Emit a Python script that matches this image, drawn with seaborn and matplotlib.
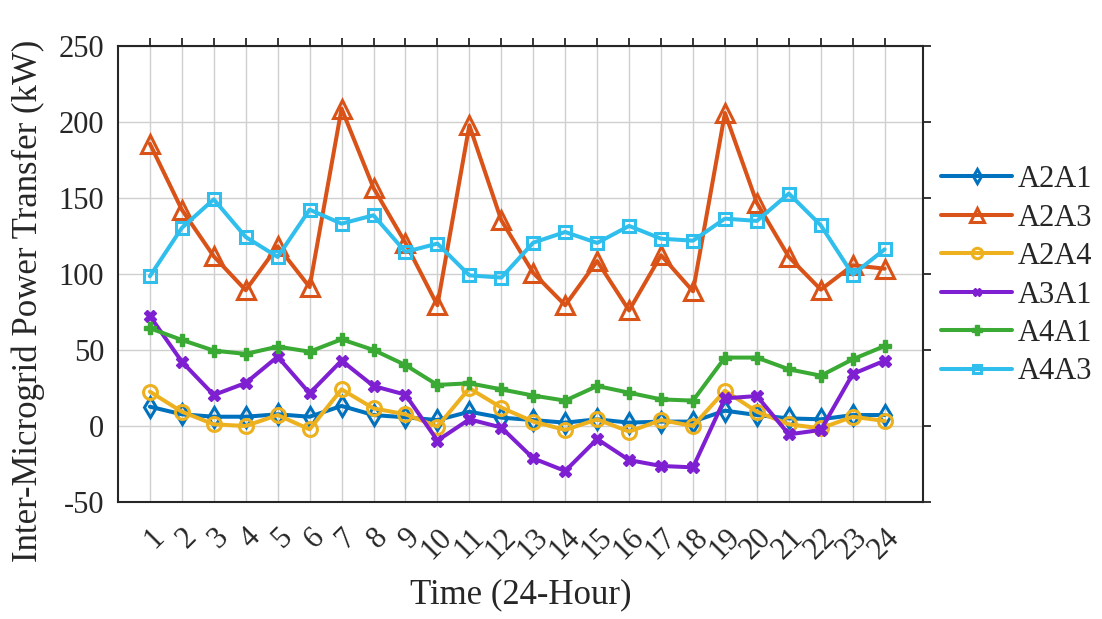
import numpy as np
import pandas as pd
import seaborn as sns
import matplotlib
matplotlib.use("Agg")
import matplotlib.pyplot as plt

hours = list(range(1, 25))

a2a1 = [12.7, 7.7, 6.1, 6.1, 7.7, 6.1, 13.2, 7.2, 5.7, 3.9, 9.4, 5.5,
        3.9, 2.2, 4.4, 2.2, 2.9, 2.9, 10.1, 7.2, 5.0, 4.4, 7.2, 7.2]
a2a3 = [185.7, 142.3, 111.6, 89.3, 118.2, 91.4, 208.8, 156.6, 120.4, 79.4, 197.8, 135.3,
        100.7, 79.4, 108.5, 76.0, 112.3, 88.6, 205.9, 146.7, 111.2, 89.7, 105.7, 103.5]
a2a4 = [22.6, 9.4, 1.1, 0.0, 7.2, -2.2, 24.1, 11.6, 7.7, -0.4, 24.8, 12.1,
        2.9, -2.6, 4.4, -3.7, 3.9, 0.0, 23.2, 9.4, 1.1, -1.5, 6.1, 3.3]
a3a1 = [72.4, 42.3, 20.4, 28.3, 45.6, 21.5, 43.0, 26.3, 20.6, -9.6, 4.4, -1.0,
        -21.3, -29.6, -8.6, -22.4, -26.3, -27.2, 18.2, 19.7, -5.5, -2.6, 34.2, 43.0]
a4a1 = [64.3, 56.6, 49.6, 47.4, 52.2, 48.9, 57.0, 50.0, 40.1, 27.0, 28.1, 24.1,
        20.0, 16.7, 26.3, 21.9, 17.5, 16.7, 45.0, 45.0, 37.3, 33.1, 43.9, 52.6]
a4a3 = [98.5, 130.3, 149.1, 124.3, 111.2, 142.3, 133.1, 138.6, 114.5, 120.0, 99.1, 97.6,
        120.6, 127.6, 120.4, 131.6, 123.2, 121.9, 136.4, 134.9, 152.9, 132.0, 99.6, 116.2]

names = ["A2A1", "A2A3", "A2A4", "A3A1", "A4A1", "A4A3"]
series = [a2a1, a2a3, a2a4, a3a1, a4a1, a4a3]
colors = ["#0072BD", "#D95319", "#EDB120", "#7E1FD2", "#3AAA35", "#30BEEC"]
markers = ["d", "^", "o", "X", "P", "s"]
msizes = [10, 13, 10, 8, 9, 8]

sns.set_theme(style="white")
plt.rcParams["font.family"] = ["Liberation Serif", "DejaVu Serif"]
plt.rcParams["axes.unicode_minus"] = False

fig = plt.figure(figsize=(11.02, 6.19), dpi=100)
ax = fig.add_axes([0.107, 0.189, 0.7306, 0.7368])

for name, vals, c, m, ms in zip(names, series, colors, markers, msizes):
    filled = m in ("X", "P")
    sns.lineplot(x=hours, y=vals, ax=ax, color=c, marker=m, markersize=ms,
                 linewidth=2.9, label=name,
                 markerfacecolor=c if filled else "none",
                 markeredgecolor=c, markeredgewidth=1.0 if filled else 2.2)

ax.set_xlim(0, 25.2)
ax.set_ylim(-50, 250)
ax.set_xticks(hours)
ax.set_xticklabels([str(h) for h in hours], rotation=45, ha="right",
                   rotation_mode="anchor")
ax.set_yticks(range(-50, 251, 50))
ax.grid(True, color="#cfcfcf", linewidth=1.0)
ax.set_axisbelow(True)

for sp in ax.spines.values():
    sp.set_color("#262626")
    sp.set_linewidth(1.5)
ax.tick_params(axis="both", which="both", direction="out", length=6, width=1.3,
               color="#262626", labelsize=22, top=True, right=True,
               labelcolor="#262626", pad=4)
ax.tick_params(axis="x", pad=9)

ax.set_xlabel("Time (24-Hour)", fontsize=25, color="#262626", labelpad=10)
ax.set_ylabel("Inter-Microgrid Power Transfer (kW)", fontsize=25, color="#262626")
ax.yaxis.set_label_coords(-0.09, 0.44)

ax.legend(loc="center left", bbox_to_anchor=(1.0, 0.496), frameon=False,
          fontsize=22, handlelength=2.3, markerscale=0.75, labelspacing=0.31,
          handletextpad=0.2, borderaxespad=0.2)

fig.savefig("out.png", dpi=100, facecolor="white")
